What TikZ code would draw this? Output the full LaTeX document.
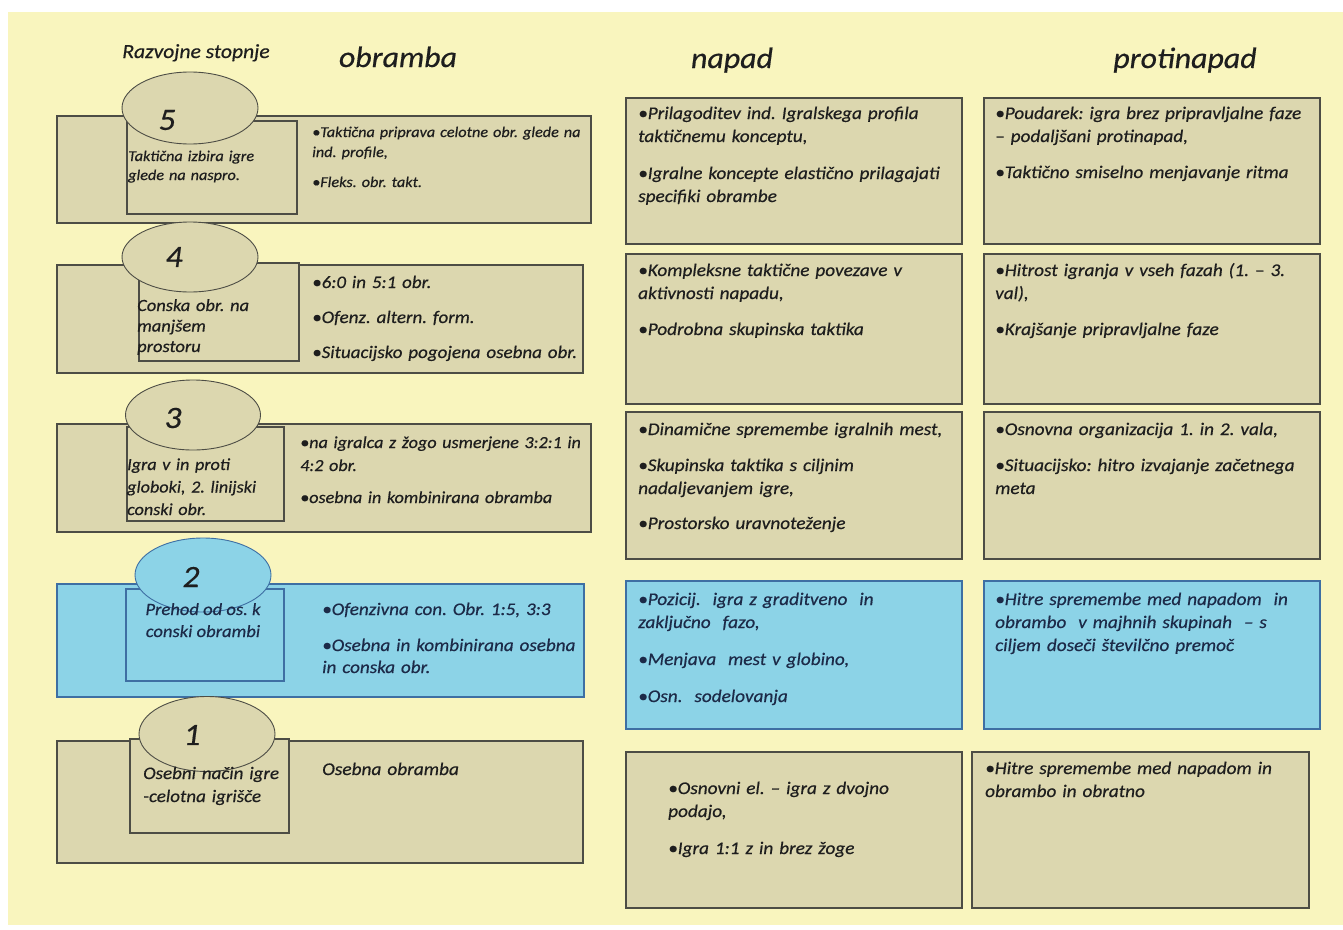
\documentclass[tikz,border=0pt]{standalone}
\usepackage{fontspec}
\setmainfont{Carlito}[FakeStretch=1.08, FakeBold=0.5]
\usetikzlibrary{shapes.geometric}
\definecolor{bgyellow}{HTML}{F9F5BE}
\definecolor{khaki}{HTML}{DCD7AF}
\definecolor{boxline}{HTML}{4D4D45}
\definecolor{skyfill}{HTML}{8CD3E7}
\definecolor{skyline}{HTML}{3E6FA3}
\definecolor{ink}{HTML}{1E1E1E}
\definecolor{navyink}{HTML}{1C2A48}
\frenchspacing
\begin{document}
\begin{tikzpicture}[x=1pt,y=-1pt,
  panel/.style={rectangle, draw=boxline, fill=khaki, line width=1.5pt, inner sep=0pt, anchor=north west},
  bluepanel/.style={panel, draw=skyline, fill=skyfill},
  stage/.style={ellipse, draw=boxline, fill=khaki, line width=0.9pt, inner sep=0pt},
  bluestage/.style={stage, draw=skyline, fill=skyfill},
  stagenum/.style={font=\fontsize{31}{34}\selectfont\itshape, text=ink, inner sep=0pt},
  header/.style={font=\fontsize{29.5}{32}\selectfont\itshape, text=ink, inner sep=0pt, anchor=base},
  body/.style={anchor=base west, align=left, inner sep=0pt, text width=#1, text=ink},
  body/.default=340pt,
  fcol/.style={font=\fontsize{17.8}{23}\selectfont\itshape}
]
\useasboundingbox (0,0) rectangle (1343,929);
\fill[white] (0,0) rectangle (1343,929);
\fill[bgyellow] (8,12) rectangle (1343,925);

% column headings
\node[header, font=\fontsize{20}{22}\selectfont\itshape] (hstage) at (196,58) {Razvojne stopnje};
\node[header] (hdef) at (398,67) {obramba};
\node[header] (hatt) at (732,68) {napad};
\node[header] (hcnt) at (1185,68) {protinapad};

% ---------- stage 5 ----------
\node[panel, minimum width=534pt, minimum height=107pt] (r5) at (56,115) {};
\node[panel, minimum width=170pt, minimum height=93pt] (i5) at (126,120) {};
\node[stage, minimum width=136pt, minimum height=72pt] (e5) at (190,108) {};
\node[stagenum] (n5) at (167,120) {5};
\node[body=168pt, font=\fontsize{15}{19}\selectfont\itshape] (t5) at (128,161) {Taktična izbira igre\\glede na naspro.};
\node[body=300pt, font=\fontsize{15}{20}\selectfont\itshape] (d5) at (312,137) {•Taktična priprava celotne obr. glede na\\ind. profile,\\[10pt]•Fleks. obr. takt.};

% ---------- stage 4 ----------
\node[panel, minimum width=526pt, minimum height=108pt] (r4) at (56,264) {};
\node[panel, minimum width=160pt, minimum height=98pt] (i4) at (138,262) {};
\node[stage, minimum width=136pt, minimum height=70pt] (e4) at (190,257) {};
\node[stagenum] (n4) at (174,257) {4};
\node[body=160pt, font=\fontsize{17.1}{20.5}\selectfont\itshape] (t4) at (137,311) {Conska obr. na\\manjšem\\prostoru};
\node[body=300pt, font=\fontsize{17.6}{23}\selectfont\itshape] (d4) at (312,288) {•6:0 in 5:1 obr.\\[12pt]•Ofenz. altern. form.\\[12pt]•Situacijsko pogojena osebna obr.};

% ---------- stage 3 ----------
\node[panel, minimum width=534pt, minimum height=108pt] (r3) at (56,423) {};
\node[panel, minimum width=157pt, minimum height=94pt] (i3) at (126,426) {};
\node[stage, minimum width=135pt, minimum height=70pt] (e3) at (193,415) {};
\node[stagenum] (n3) at (173,418) {3};
\node[body=170pt, font=\fontsize{16.8}{22.5}\selectfont\itshape] (t3) at (127,470) {Igra v in proti\\globoki, 2. linijski\\conski obr.};
\node[body=310pt, font=\fontsize{16.8}{23}\selectfont\itshape] (d3) at (300,448) {•na igralca z žogo usmerjene 3:2:1 in\\4:2 obr.\\[9pt]•osebna in kombinirana obramba};

% ---------- stage 2 ----------
\node[bluepanel, minimum width=527pt, minimum height=113pt] (r2) at (56,583) {};
\node[bluepanel, minimum width=158pt, minimum height=92pt] (i2) at (125,588) {};
\node[bluestage, minimum width=136pt, minimum height=74pt] (e2) at (203,575) {};
\node[stagenum] (n2) at (191,577) {2};
\node[anchor=base, align=center, inner sep=0pt, text=navyink, font=\fontsize{17.2}{22}\selectfont\itshape] (t2) at (203,637) {Prehod od os. k\\conski obrambi};
\node[body=290pt, font=\fontsize{17.7}{22}\selectfont\itshape, text=navyink] (d2) at (322,615) {•Ofenzivna con. Obr. 1:5, 3:3\\[14pt]•Osebna in kombinirana osebna\\in conska obr.};

% ---------- stage 1 ----------
\node[panel, minimum width=526pt, minimum height=122pt] (r1) at (56,740) {};
\node[panel, minimum width=159pt, minimum height=94pt] (i1) at (129,738) {};
\node[stage, minimum width=136pt, minimum height=75pt] (e1) at (207,734) {};
\node[stagenum] (n1) at (192,735) {1};
\node[body=170pt, font=\fontsize{17.6}{23}\selectfont\itshape] (t1) at (143,779) {Osebni način igre\\-celotna igrišče};
\node[body=250pt, font=\fontsize{17.9}{23}\selectfont\itshape] (d1) at (322,775) {Osebna obramba};

% ---------- napad ----------
\node[panel, minimum width=336pt, minimum height=146pt] (a5) at (625,97) {};
\node[body, fcol] (at5) at (638,119) {•Prilagoditev ind. Igralskega profila\\taktičnemu konceptu,\\[14pt]•Igralne koncepte elastično prilagajati\\specifiki obrambe};
\node[panel, minimum width=336pt, minimum height=150pt] (a4) at (625,253) {};
\node[body, fcol] (at4) at (638,276) {•Kompleksne taktične povezave v\\aktivnosti napadu,\\[13pt]•Podrobna skupinska taktika};
\node[panel, minimum width=336pt, minimum height=147pt] (a3) at (625,411) {};
\node[body, fcol] (at3) at (638,435) {•Dinamične spremembe igralnih mest,\\[13pt]•Skupinska taktika s ciljnim\\nadaljevanjem igre,\\[12pt]•Prostorsko uravnoteženje};
\node[bluepanel, minimum width=336pt, minimum height=148pt] (a2) at (625,580) {};
\node[body, fcol, text=navyink] (at2) at (638,605) {•Pozicij.\ \ igra z graditveno\ \ in\\zaključno\ \ fazo,\\[14pt]•Menjava\ \ mest v globino,\\[14pt]•Osn.\ \ sodelovanja};
\node[panel, minimum width=336pt, minimum height=156pt] (a1) at (625,751) {};
\node[body, fcol] (at1) at (668,794) {•Osnovni el. – igra z dvojno\\podajo,\\[14pt]•Igra 1:1 z in brez žoge};

% ---------- protinapad ----------
\node[panel, minimum width=336pt, minimum height=146pt] (c5) at (983,97) {};
\node[body, fcol] (ct5) at (995,119) {•Poudarek: igra brez pripravljalne faze\\– podaljšani protinapad,\\[13pt]•Taktično smiselno menjavanje ritma};
\node[panel, minimum width=336pt, minimum height=150pt] (c4) at (983,253) {};
\node[body, fcol] (ct4) at (995,276) {•Hitrost igranja v vseh fazah (1. – 3.\\val),\\[13pt]•Krajšanje pripravljalne faze};
\node[panel, minimum width=336pt, minimum height=147pt] (c3) at (983,411) {};
\node[body, fcol] (ct3) at (995,435) {•Osnovna organizacija 1. in 2. vala,\\[13pt]•Situacijsko: hitro izvajanje začetnega\\meta};
\node[bluepanel, minimum width=336pt, minimum height=148pt] (c2) at (983,580) {};
\node[body, fcol, text=navyink] (ct2) at (995,605) {•Hitre spremembe med napadom\ \ in\\obrambo\ \ v majhnih skupinah\ \ – s\\ciljem doseči številčno premoč};
\node[panel, minimum width=337pt, minimum height=156pt] (c1) at (971,751) {};
\node[body, fcol] (ct1) at (985,774) {•Hitre spremembe med napadom in\\obrambo in obratno};
\end{tikzpicture}
\end{document}
